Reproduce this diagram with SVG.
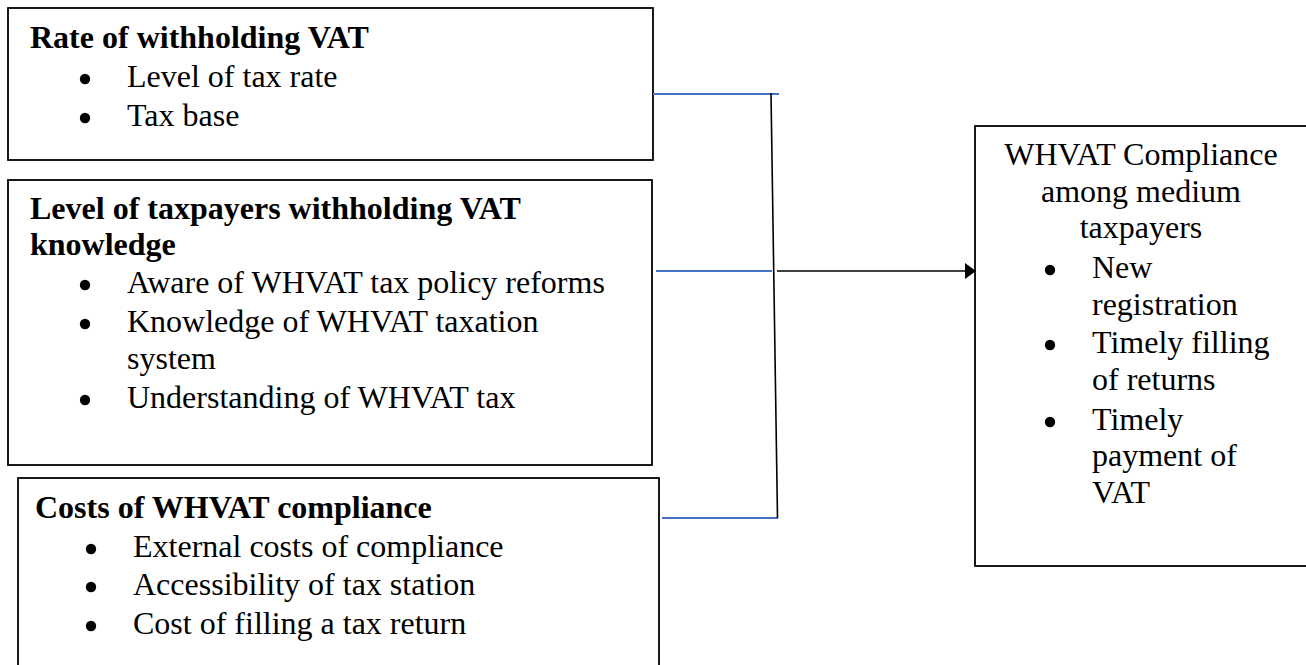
<svg xmlns="http://www.w3.org/2000/svg" width="1306" height="665" viewBox="0 0 1306 665">
<style>
.box{fill:#fff;stroke:#000;stroke-width:1.8}
.t{font-family:"Liberation Serif","Times New Roman",serif;font-size:32px;fill:#000}
.b{font-weight:bold}
.c{text-anchor:middle}
.blue{stroke:#4472C4;stroke-width:2;fill:none}
.blk{stroke:#000;stroke-width:1.6;fill:none}
.dot{fill:#000}
</style>
<g id="rate">
<rect class="box" x="8" y="8" width="645" height="152"/>
<text class="t b" x="30" y="48">Rate of withholding VAT</text>
<circle class="dot" cx="85" cy="79" r="5.2"/>
<text class="t" x="127" y="87">Level of tax rate</text>
<circle class="dot" cx="85" cy="118" r="5.2"/>
<text class="t" x="127" y="126">Tax base</text>
</g>
<g id="knowledge">
<rect class="box" x="8" y="180" width="644" height="285"/>
<text class="t b" x="30" y="219">Level of taxpayers withholding VAT</text>
<text class="t b" x="30" y="255">knowledge</text>
<circle class="dot" cx="85" cy="285" r="5.2"/>
<text class="t" x="127" y="293">Aware of WHVAT tax policy reforms</text>
<circle class="dot" cx="85" cy="324" r="5.2"/>
<text class="t" x="127" y="332">Knowledge of WHVAT taxation</text>
<text class="t" x="127" y="369">system</text>
<circle class="dot" cx="85" cy="400" r="5.2"/>
<text class="t" x="127" y="408">Understanding of WHVAT tax</text>
</g>
<g id="costs">
<rect class="box" x="18" y="478" width="641" height="220"/>
<text class="t b" x="35" y="518">Costs of WHVAT compliance</text>
<circle class="dot" cx="91" cy="549" r="5.2"/>
<text class="t" x="133" y="557">External costs of compliance</text>
<circle class="dot" cx="91" cy="587" r="5.2"/>
<text class="t" x="133" y="595">Accessibility of tax station</text>
<circle class="dot" cx="91" cy="626" r="5.2"/>
<text class="t" x="133" y="634">Cost of filling a tax return</text>
</g>
<g id="compliance">
<rect class="box" x="975" y="126" width="350" height="440"/>
<text class="t c" x="1141" y="165">WHVAT Compliance</text>
<text class="t c" x="1141" y="202">among medium</text>
<text class="t c" x="1141" y="238">taxpayers</text>
<circle class="dot" cx="1050" cy="270" r="5.2"/>
<text class="t" x="1092" y="278">New</text>
<text class="t" x="1092" y="315">registration</text>
<circle class="dot" cx="1050" cy="345" r="5.2"/>
<text class="t" x="1092" y="353">Timely filling</text>
<text class="t" x="1092" y="390">of returns</text>
<circle class="dot" cx="1050" cy="422" r="5.2"/>
<text class="t" x="1092" y="430">Timely</text>
<text class="t" x="1092" y="466">payment of</text>
<text class="t" x="1092" y="503">VAT</text>
</g>
<g id="connectors">
<line class="blue" x1="653" y1="94" x2="779" y2="94"/>
<line class="blue" x1="656" y1="271" x2="772" y2="271"/>
<line class="blue" x1="662" y1="518" x2="778" y2="518"/>
<line class="blk" x1="771" y1="93" x2="777.5" y2="518"/>
<line class="blk" x1="777" y1="271" x2="966" y2="271"/>
<polygon points="965,263 976,271 965,279" fill="#000"/>
</g>
</svg>
